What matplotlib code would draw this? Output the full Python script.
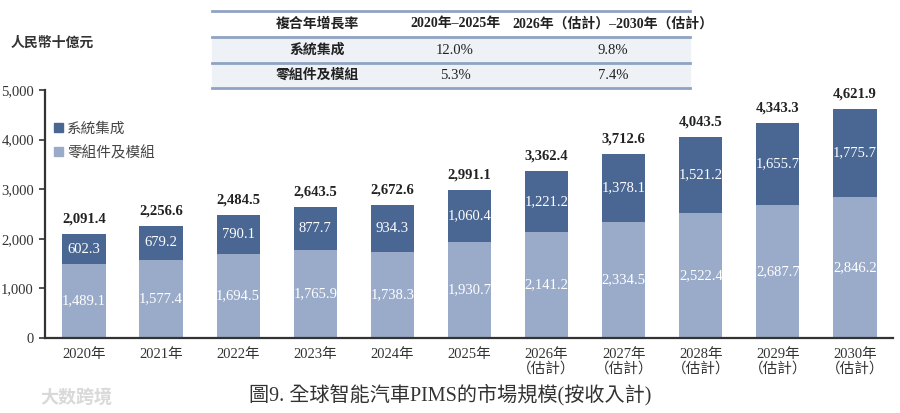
import matplotlib
matplotlib.use('Agg')
import matplotlib.pyplot as plt
import numpy as np
from matplotlib.lines import Line2D
from matplotlib.patches import Rectangle

plt.rcParams['font.family'] = ['Liberation Serif', 'Noto Sans CJK TC', 'DejaVu Sans']

years = ['2020年', '2021年', '2022年', '2023年', '2024年', '2025年',
         '2026年\n（估計）', '2027年\n（估計）', '2028年\n（估計）',
         '2029年\n（估計）', '2030年\n（估計）']
system_integration = [602.3, 679.2, 790.1, 877.7, 934.3, 1060.4,
                      1221.2, 1378.1, 1521.2, 1655.7, 1775.7]
components = [1489.1, 1577.4, 1694.5, 1765.9, 1738.3, 1930.7,
              2141.2, 2334.5, 2522.4, 2687.7, 2846.2]
totals = [2091.4, 2256.6, 2484.5, 2643.5, 2672.6, 2991.1,
          3362.4, 3712.6, 4043.5, 4343.3, 4621.9]

cagr_header = ['複合年增長率', '2020年–2025年', '2026年（估計）–2030年（估計）']
cagr_rows = [['系統集成', '12.0%', '9.8%'],
             ['零組件及模組', '5.3%', '7.4%']]

dark = '#4a6793'
light = '#9aabc9'
line_col = '#8fa3c2'

fig = plt.figure(figsize=(9, 4.13), dpi=100)
ax = fig.add_axes([0.05, 0.182, 0.942, 0.600])

x = np.arange(len(years))
w = 0.56
ax.bar(x, components, w, color=light, label='零組件及模組', zorder=2)
ax.bar(x, system_integration, w, bottom=components, color=dark,
       label='系統集成', zorder=2)

for i in range(len(x)):
    ax.text(x[i], components[i] / 2, f'{components[i]:,.1f}', ha='center',
            va='center', color='white', fontsize=10.5)
    ax.text(x[i], components[i] + system_integration[i] / 2,
            f'{system_integration[i]:,.1f}', ha='center', va='center',
            color='white', fontsize=10.5)
    ax.text(x[i], totals[i] + 170, f'{totals[i]:,.1f}', ha='center',
            va='bottom', color='#222222', fontsize=10.5, fontweight='bold')

ax.set_xlim(-0.505, 10.49)
ax.set_ylim(0, 5000)
ax.set_yticks(np.arange(0, 5001, 1000))
ax.set_yticklabels([f'{v:,}' for v in range(0, 5001, 1000)])
ax.set_xticks(x)
ax.set_xticklabels(years, linespacing=1.1)
ax.tick_params(axis='y', length=4, width=1.2, labelsize=10.5, colors='#333333', pad=4)
ax.tick_params(axis='x', length=0, labelsize=10.5, colors='#333333', pad=7)
for s in ['top', 'right']:
    ax.spines[s].set_visible(False)
for s in ['left', 'bottom']:
    ax.spines[s].set_linewidth(1.6)
    ax.spines[s].set_color('#333333')

handles = [Rectangle((0, 0), 1, 1, color=dark), Rectangle((0, 0), 1, 1, color=light)]
ax.legend(handles, ['系統集成', '零組件及模組'], loc='upper left',
          bbox_to_anchor=(-0.005, 0.925), frameon=False, fontsize=10.5,
          handlelength=0.6, handleheight=0.6, handletextpad=0.3,
          labelspacing=0.7, labelcolor='#444444')

fig.text(0.012, 0.896, '人民幣十億元', fontsize=10, fontweight='bold',
         color='#333333', va='center')

# CAGR table
tx0, tx1 = 212 / 900, 690 / 900
row_lines = [11, 37, 63, 88]
for k in range(2):
    y_top = 1 - row_lines[k + 1] / 413
    y_bot = 1 - row_lines[k + 2] / 413
    fig.patches.append(Rectangle((tx0, y_bot), tx1 - tx0, y_top - y_bot,
                                 transform=fig.transFigure, color='#eef1f6', zorder=0))
for yl in row_lines:
    yy = 1 - yl / 413
    fig.add_artist(Line2D([tx0, tx1], [yy, yy], transform=fig.transFigure,
                          color=line_col, lw=2))
col_x = [317 / 900, 455 / 900, 613 / 900]
row_y = [24, 50, 75.5]
for j, txt in enumerate(cagr_header):
    fig.text(col_x[j], 1 - row_y[0] / 413, txt, ha='center', va='center',
             fontsize=10, fontweight='bold', color='#222222')
for r, row in enumerate(cagr_rows):
    for j, txt in enumerate(row):
        fig.text(col_x[j], 1 - row_y[r + 1] / 413, txt, ha='center', va='center',
                 fontsize=10.5 if j else 10, fontweight='bold' if j == 0 else 'normal',
                 color='#222222')

fig.text(0.5, 1 - 395 / 413, '圖9. 全球智能汽車PIMS的市場規模(按收入計)',
         ha='center', va='center', fontsize=14.5, color='#333333')
fig.text(0.045, 1 - 398 / 413, '大数跨境', ha='left', va='center',
         fontsize=13, color='#d9d9d9', fontweight='bold')

fig.savefig('out.png', dpi=100)
